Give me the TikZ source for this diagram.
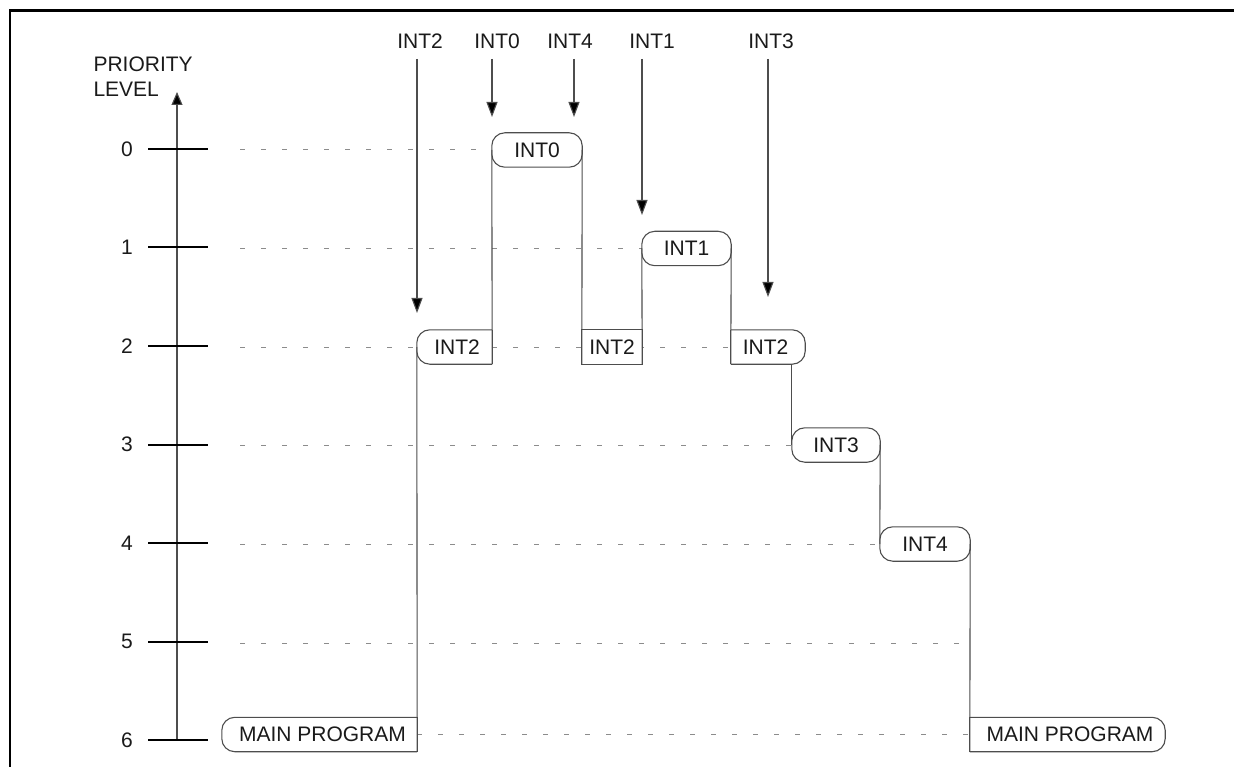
\documentclass[tikz,border=0pt]{standalone}
\usepackage{fontspec}
\setmainfont{Liberation Sans}
\usetikzlibrary{arrows.meta}
\definecolor{ln}{HTML}{4D4D4D}
\definecolor{dsh}{HTML}{8C8C8C}
\definecolor{txt}{HTML}{1A1A1A}
\pgfdeclarelayer{bg}
\pgfsetlayers{bg,main}
\begin{document}
\begin{tikzpicture}[x=1pt,y=1pt,font=\fontsize{21}{25}\selectfont,
  lvbox/.style={rectangle,inner sep=0pt,minimum height=34pt,fill=white,text=txt},
  conn/.style={draw=ln,line width=1.1pt},
  lvl/.style={draw=dsh,line width=1pt,dash pattern=on 5pt off 16pt},
  tickln/.style={draw=black,line width=2pt},
  outl/.style={draw=ln,line width=1.1pt,rounded corners=13pt},
  darr/.style={draw=ln,line width=1.1pt,-{Triangle[length=15pt,width=11pt,fill=black]}},
  lab/.style={text=txt}]
\useasboundingbox (0,0) rectangle (1234,-767);
% frame
\draw[line width=2.6pt,black] (10,-800) -- (10,-10.5) -- (1260,-10.5);

% axis
\node[lab,anchor=base west] (pr) at (90,-72) {PRIORITY};
\node[lab,anchor=base west] (lv) at (90,-97) {LEVEL};
\coordinate (ax0) at (177,-740);
\coordinate (ax1) at (177,-92);
\draw[conn,-{Triangle[length=13pt,width=11pt,fill=black]}] (ax0) -- (ax1);
\foreach \k/\yy in {0/149,1/247.5,2/346,3/444.5,4/543,5/641.5,6/740}{
  \draw[tickln] (148,-\yy) -- (208,-\yy);
  \node[lab] (num\k) at (127,-\yy) {\k};
}

% boxes
\node[lvbox,minimum width=195pt] (mp1) at (319.5,-734.5) {\hspace*{6pt}MAIN PROGRAM};
\node[lvbox,minimum width=75pt] (i2a) at (454.5,-347) {\hspace*{5pt}INT2};
\node[lvbox,minimum width=90pt] (i0) at (537,-150) {INT0};
\node[lvbox,minimum width=60pt] (i2b) at (612,-347) {INT2};
\node[lvbox,minimum width=89pt] (i1) at (686.5,-248.5) {INT1};
\node[lvbox,minimum width=74pt] (i2c) at (768,-347) {INT2\hspace*{5pt}};
\node[lvbox,minimum width=88pt] (i3) at (836,-445) {INT3};
\node[lvbox,minimum width=90pt] (i4) at (925,-544) {INT4};
\node[lvbox,minimum width=195pt] (mp2) at (1067.5,-734.5) {\hspace*{5pt}MAIN PROGRAM};

% outlines
\draw[outl] (mp1.north east) -- (mp1.north west) -- (mp1.south west) -- (mp1.south east);
\draw[conn] (mp1.north east) -- (mp1.south east);
\draw[outl] (i2a.north east) -- (i2a.north west) -- (i2a.south west) -- (i2a.south east);
\draw[conn] (i2a.north east) -- (i2a.south east);
\draw[outl] (i0.north west) rectangle (i0.south east);
\draw[conn] (i2b.north west) rectangle (i2b.south east);
\draw[outl] (i1.north west) rectangle (i1.south east);
\draw[outl] (i2c.north west) -- (i2c.north east) -- (i2c.south east) -- (i2c.south west);
\draw[conn] (i2c.north west) -- (i2c.south west);
\draw[outl] (i3.north west) rectangle (i3.south east);
\draw[outl] (i4.north west) rectangle (i4.south east);
\draw[outl] (mp2.north west) -- (mp2.north east) -- (mp2.south east) -- (mp2.south west);
\draw[conn] (mp2.north west) -- (mp2.south west);

% connectors (execution path)
\draw[conn] (i2a.west) -- (mp1.south east);
\draw[conn] (i0.west) -- (i2a.south east);
\draw[conn] (i0.east) -- (i2b.south west);
\draw[conn] (i1.west) -- (i2b.south east);
\draw[conn] (i1.east) -- (i2c.south west);
\draw[conn] (i3.west |- i2c.south) -- (i3.west);
\draw[conn] (i3.east) -- (i4.west);
\draw[conn] (i4.east) -- (mp2.south west);

% dashed level lines
\coordinate (d0) at (240,-150);
\coordinate (d1) at (240,-248.5);
\coordinate (d2) at (240,-347);
\coordinate (d3) at (240,-445);
\coordinate (d4) at (240,-544);
\coordinate (d5) at (240,-643);
\coordinate (d5e) at (970,-643);
\begin{pgfonlayer}{bg}
\draw[lvl] (d0) -- (i0.west);
\draw[lvl] (d1) -- (i1.west);
\draw[lvl] (d2) -- (i2c.west);
\draw[lvl] (d3) -- (i3.west);
\draw[lvl] (d4) -- (i4.west);
\draw[lvl] (d5) -- (d5e);
\draw[lvl] (mp1.east) -- (mp2.west);
\end{pgfonlayer}

% interrupt requests
\node[lab] (t2) at (420,-41) {INT2};
\node[lab] (t0) at (497,-41) {INT0};
\node[lab] (t4) at (570,-41) {INT4};
\node[lab] (t1) at (652,-41) {INT1};
\node[lab] (t3) at (771,-41) {INT3};
\coordinate (s2) at (417,-59);  \coordinate (e2) at (417,-313);
\coordinate (s0) at (492,-59);  \coordinate (e0) at (492,-117);
\coordinate (s4) at (574,-59);  \coordinate (e4) at (574,-117);
\coordinate (s1) at (642,-59);  \coordinate (e1) at (642,-215);
\coordinate (s3) at (768,-59);  \coordinate (e3) at (768,-297);
\draw[darr] (s2) -- (e2);
\draw[darr] (s0) -- (e0);
\draw[darr] (s4) -- (e4);
\draw[darr] (s1) -- (e1);
\draw[darr] (s3) -- (e3);
\end{tikzpicture}
\end{document}
